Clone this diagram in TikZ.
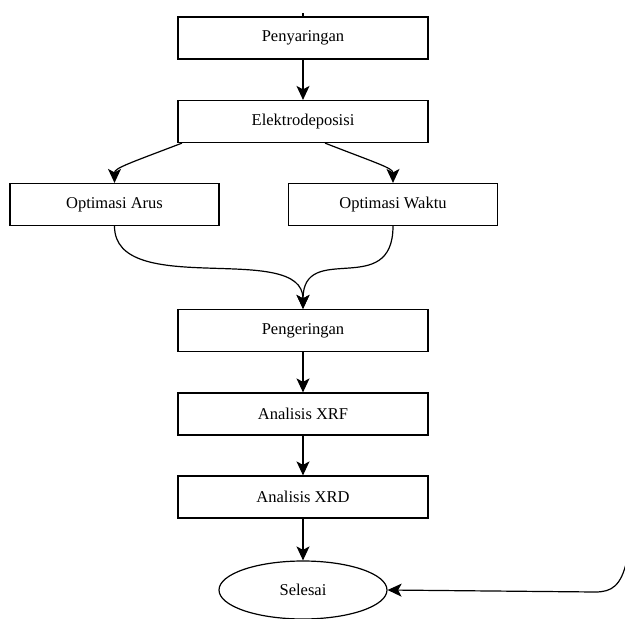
\documentclass[tikz,border=0pt]{standalone}
\usepackage{fontspec}
\setmainfont{Liberation Serif}
\usetikzlibrary{arrows.meta,shapes.geometric}
\begin{document}
\begin{tikzpicture}[x=1pt,y=-1pt,
  box/.style={draw,line width=1.2pt,minimum width=250pt,minimum height=42pt,inner sep=0pt,font=\fontsize{16.5}{19}\selectfont},
  sbox/.style={box,minimum width=209pt},
  endnode/.style={draw,line width=1.2pt,ellipse,minimum width=168pt,minimum height=58pt,inner sep=0pt,font=\fontsize{16.5}{19}\selectfont},
  conn/.style={line width=1.2pt,-{Stealth[length=14pt,width=13pt,inset=3.5pt]}}]
\useasboundingbox (0,0) rectangle (625,619);
\node[box] (p) at (303,38) {Penyaringan};
\node[box] (e) at (303,121.5) {Elektrodeposisi};
\node[sbox] (oa) at (114.5,204.5) {Optimasi Arus};
\node[sbox] (ow) at (393,204.5) {Optimasi Waktu};
\node[box] (g) at (303,330.5) {Pengeringan};
\node[box] (xf) at (303,414) {Analisis XRF};
\node[box] (xd) at (303,497) {Analisis XRD};
\node[endnode] (s) at (303,590) {Selesai};
\coordinate (top) at (303,13);
\coordinate (rc) at (627,560);
\draw[line width=1.2pt] (top) -- (p.north);
\draw[conn] (p) -- (e);
\draw[conn] ([xshift=-121pt]e.south) .. controls (130,163) and (114.5,168) .. (oa.north);
\draw[conn] ([xshift=22pt]e.south) .. controls (376,163) and (393,168) .. (ow.north);
\draw[conn] (oa.south) .. controls (114.5,300) and (303,240) .. (g.north);
\draw[conn] (ow.south) .. controls (393,300) and (303,240) .. (g.north);
\draw[conn] (g) -- (xf);
\draw[conn] (xf) -- (xd);
\draw[conn] (xd) -- (s);
\draw[conn] (rc) .. controls (621,586) and (612,592) .. (595,592) -- (s.east);
\end{tikzpicture}
\end{document}
